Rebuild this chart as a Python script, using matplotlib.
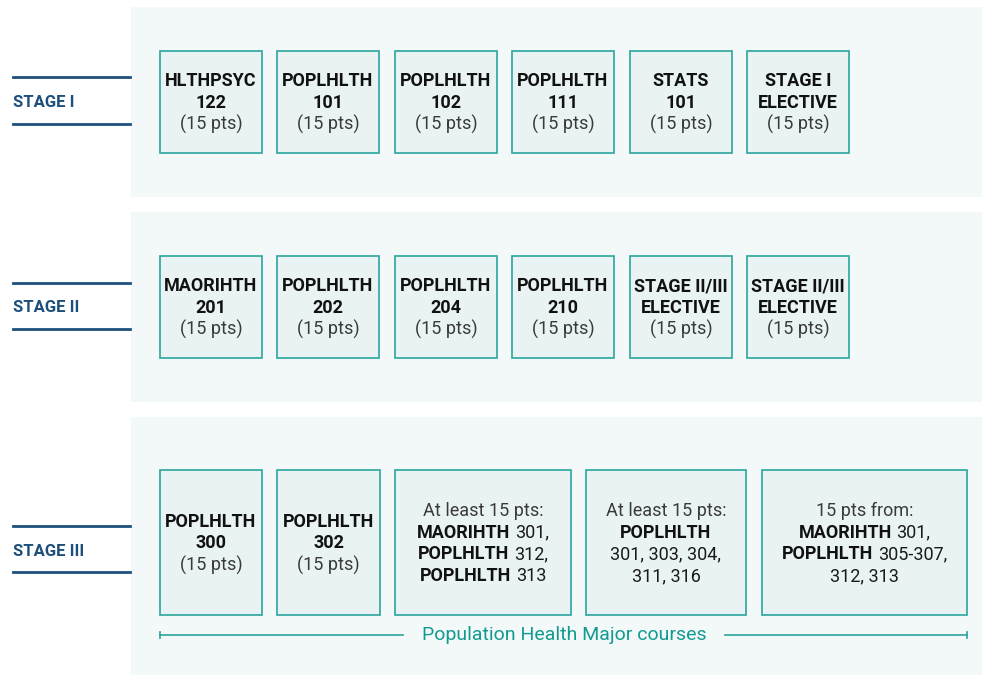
import matplotlib.pyplot as plt
from matplotlib.patches import Rectangle

plt.rcParams['font.family'] = ['Roboto', 'DejaVu Sans']

# ---- data ----
stage_labels = ['STAGE I', 'STAGE II', 'STAGE III']

# each course box: list of lines, each line a list of (text, weight) segments
# weight: 'b' bold, 'n' normal, 'l' lighter note text
stage1_courses = [
    [[('HLTHPSYC', 'b')], [('122', 'b')], [('(15 pts)', 'l')]],
    [[('POPLHLTH', 'b')], [('101', 'b')], [('(15 pts)', 'l')]],
    [[('POPLHLTH', 'b')], [('102', 'b')], [('(15 pts)', 'l')]],
    [[('POPLHLTH', 'b')], [('111', 'b')], [('(15 pts)', 'l')]],
    [[('STATS', 'b')], [('101', 'b')], [('(15 pts)', 'l')]],
    [[('STAGE I', 'b')], [('ELECTIVE', 'b')], [('(15 pts)', 'l')]],
]
stage2_courses = [
    [[('MAORIHTH', 'b')], [('201', 'b')], [('(15 pts)', 'l')]],
    [[('POPLHLTH', 'b')], [('202', 'b')], [('(15 pts)', 'l')]],
    [[('POPLHLTH', 'b')], [('204', 'b')], [('(15 pts)', 'l')]],
    [[('POPLHLTH', 'b')], [('210', 'b')], [('(15 pts)', 'l')]],
    [[('STAGE II/III', 'b')], [('ELECTIVE', 'b')], [('(15 pts)', 'l')]],
    [[('STAGE II/III', 'b')], [('ELECTIVE', 'b')], [('(15 pts)', 'l')]],
]
stage3_courses = [
    [[('POPLHLTH', 'b')], [('300', 'b')], [('(15 pts)', 'l')]],
    [[('POPLHLTH', 'b')], [('302', 'b')], [('(15 pts)', 'l')]],
    [[('At least 15 pts:', 'l')],
     [('MAORIHTH', 'b'), ('301,', 'n')],
     [('POPLHLTH', 'b'), ('312,', 'n')],
     [('POPLHLTH', 'b'), ('313', 'n')]],
    [[('At least 15 pts:', 'l')],
     [('POPLHLTH', 'b')],
     [('301, 303, 304,', 'n')],
     [('311, 316', 'n')]],
    [[('15 pts from:', 'l')],
     [('MAORIHTH', 'b'), ('301,', 'n')],
     [('POPLHLTH', 'b'), ('305-307,', 'n')],
     [('312, 313', 'n')]],
]
bracket_label = 'Population Health Major courses'

# ---- layout (pixel coordinates) ----
W, H = 982, 675
panels = [(131, 7, 190), (131, 212, 190), (131, 417, 258)]   # x, top, height
small_x = [160, 277, 395, 512, 630, 747]
small_w = 102
stage3_x = [160, 277, 395, 586, 762]
stage3_w = [102, 103, 176, 160, 205]
box_rows = [(51, 102), (256, 102), (470, 145)]   # top, height
label_lines = [(77, 124), (283, 329), (526, 572)]

NAVY = '#1d4f7c'
TEAL = '#2ba59d'
TEAL_TXT = '#139a8f'
PANEL = '#f3f9f9'
BOX = '#eaf3f4'
FS = 13
LS = 21.6
WEIGHTS = {'b': ('bold', '#111111'), 'n': ('normal', '#1a1a1a'), 'l': ('normal', '#3a3a3a')}

fig = plt.figure(figsize=(W / 100, H / 100), dpi=100)
ax = fig.add_axes([0, 0, 1, 1])
ax.set_xlim(0, W)
ax.set_ylim(H, 0)
ax.axis('off')
fig.canvas.draw()
renderer = fig.canvas.get_renderer()

a = ax.text(0, 0, 'aa', fontsize=FS)
b = ax.text(0, 0, 'a a', fontsize=FS)
space_w = b.get_window_extent(renderer).width - a.get_window_extent(renderer).width
a.remove()
b.remove()


def text_line(xc, yc, segs, size=FS):
    ts = []
    for s, wt in segs:
        weight, color = WEIGHTS[wt]
        t = ax.text(0, yc, s, fontsize=size, fontweight=weight, color=color,
                    ha='left', va='center_baseline')
        ts.append(t)
    ws = [t.get_window_extent(renderer).width for t in ts]
    total = sum(ws) + space_w * (len(ts) - 1)
    x = xc - total / 2
    for t, w in zip(ts, ws):
        t.set_x(x)
        x += w + space_w


def course_box(x, top, w, h, lines):
    ax.add_patch(Rectangle((x, top), w, h, facecolor=BOX, edgecolor=TEAL, lw=1.2))
    yc = top + h / 2
    n = len(lines)
    for i, segs in enumerate(lines):
        text_line(x + w / 2, yc + (i - (n - 1) / 2) * LS - 1, segs)


for (px, pt, ph) in panels:
    ax.add_patch(Rectangle((px, pt), W - px, ph, facecolor=PANEL, edgecolor='none'))

for lab, (y1, y2) in zip(stage_labels, label_lines):
    ax.plot([13, 130], [y1, y1], color=NAVY, lw=2)
    ax.plot([13, 130], [y2, y2], color=NAVY, lw=2)
    ax.text(13, (y1 + y2) / 2 + 2, lab, fontsize=12, fontweight='bold', color=NAVY,
            ha='left', va='center')

for x, c in zip(small_x, stage1_courses):
    course_box(x, box_rows[0][0], small_w, box_rows[0][1], c)
for x, c in zip(small_x, stage2_courses):
    course_box(x, box_rows[1][0], small_w, box_rows[1][1], c)
for x, w, c in zip(stage3_x, stage3_w, stage3_courses):
    course_box(x, box_rows[2][0], w, box_rows[2][1], c)

# bracket under stage III
by = 635
ax.plot([160, 403], [by, by], color=TEAL, lw=1.2)
ax.plot([725, 967], [by, by], color=TEAL, lw=1.2)
ax.plot([160, 160], [by - 3, by + 3], color=TEAL, lw=1.2)
ax.plot([967, 967], [by - 3, by + 3], color=TEAL, lw=1.2)
ax.text(564, by, bracket_label, fontsize=14, color=TEAL_TXT, ha='center', va='center')

fig.savefig('out.png', dpi=100)
